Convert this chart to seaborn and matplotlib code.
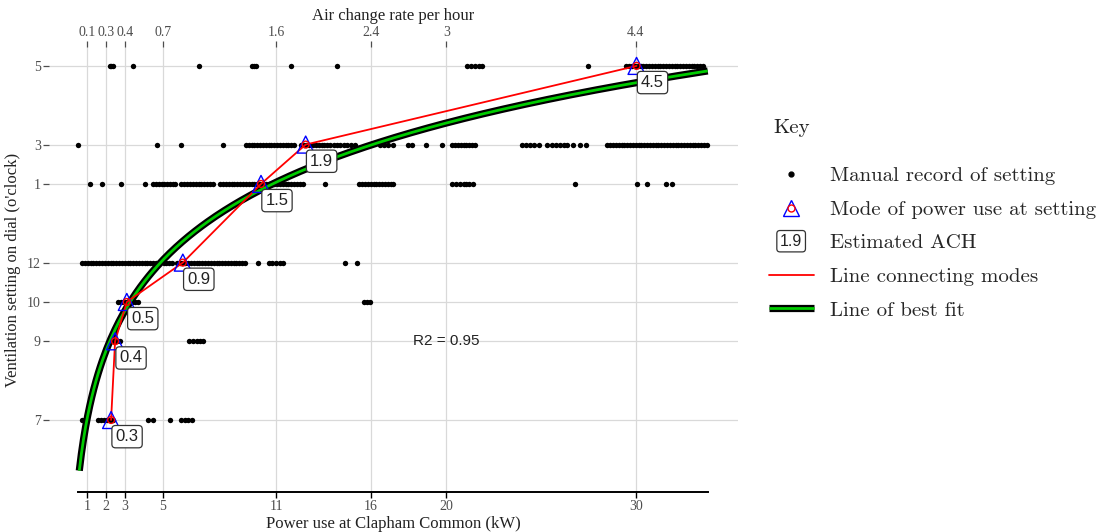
import numpy as np
import pandas as pd
import matplotlib
matplotlib.use("Agg")
import matplotlib.pyplot as plt
import seaborn as sns
import matplotlib.text as mtext
from matplotlib.lines import Line2D
from matplotlib.legend_handler import HandlerBase, HandlerTuple

# ---------------- data ----------------
dial_labels = ["7", "9", "10", "12", "1", "3", "5"]
dial_levels = [0, 2, 3, 4, 6, 7, 9]

power_dial_7 = [0.73, 0.91, 1.6, 1.75, 1.9, 2.05, 2.2, 2.4, 4.25, 4.5, 5.4, 6.0, 6.2, 6.35, 6.55]
power_dial_9 = [2.4, 2.5, 2.6, 2.75, 6.4, 6.6, 6.8, 7.0, 7.15]
power_dial_10 = [2.65, 2.8, 2.95, 3.1, 3.25, 3.4, 3.55, 3.7, 15.65, 15.8, 15.95]
power_dial_12 = [0.75, 0.9, 1.05, 1.2, 1.35, 1.5, 1.65, 1.8, 1.95, 2.1, 2.25, 2.4, 2.55, 2.7,
                 2.85, 3.0, 3.15, 3.3, 3.45, 3.6, 3.75, 3.9, 4.05, 4.2, 4.35, 4.5, 4.65, 4.8,
                 5.05, 5.2, 5.35, 5.5, 5.75, 5.9, 6.05, 6.2, 6.35, 6.5, 6.65, 6.8, 6.95, 7.1,
                 7.25, 7.4, 7.55, 7.7, 7.85, 8.0, 8.15, 8.3, 8.45, 8.6, 8.75, 8.9, 9.05, 9.2,
                 9.35, 10.04, 10.6, 10.8, 11.0, 11.2, 11.35, 14.64, 15.25]
power_dial_1 = [1.14, 1.79, 2.79, 4.08, 4.5, 4.65, 4.8, 4.95, 5.1, 5.25, 5.4, 5.55, 5.65,
                6.0, 6.15, 6.3, 6.45, 6.6, 6.75, 6.9, 7.05, 7.2, 7.35, 7.5, 7.65,
                8.05, 8.2, 8.35, 8.5, 8.65, 8.8, 8.95, 9.1, 9.25, 9.4, 9.55, 9.7, 9.85, 10.0,
                10.15, 10.3, 10.45, 10.6, 10.75, 10.9, 11.05, 11.2, 11.35, 11.5, 11.65, 11.8,
                11.95, 12.1, 12.25, 12.4, 13.58, 15.4, 15.55, 15.7, 15.85, 16.0, 16.15, 16.3,
                16.45, 16.6, 16.75, 16.9, 17.05, 17.2, 20.3, 20.5, 20.7, 20.9, 21.05, 21.2,
                21.4, 26.78, 30.04, 30.57, 31.6, 31.9]
power_dial_3 = [0.55, 4.73, 5.98, 8.21, 9.4, 9.55, 9.7, 9.85, 10.0, 10.15, 10.3, 10.45, 10.6,
                10.75, 10.9, 11.05, 11.2, 11.35, 11.5, 11.65, 11.8, 11.95, 12.3, 12.45, 12.6,
                12.75, 12.95, 13.1, 13.25, 13.4, 13.55, 13.7, 13.85, 14.05, 14.2, 14.35, 14.6,
                14.75, 14.95, 15.15, 16.5, 16.7, 16.9, 17.2, 17.96, 18.17, 18.91, 19.75, 20.3,
                20.45, 20.6, 20.75, 20.9, 21.05, 21.2, 21.35, 21.5, 24.0, 24.2, 24.4, 24.6,
                24.9, 25.3, 25.6, 25.8, 26.0, 26.2, 26.35, 26.67, 27.04, 27.36, 28.5, 28.65,
                28.8, 28.95, 29.1, 29.25, 29.4, 29.55, 29.7, 29.85, 30.0, 30.15, 30.3, 30.45,
                30.6, 30.75, 30.9, 31.05, 31.2, 31.35, 31.5, 31.65, 31.8, 31.95, 32.1, 32.25,
                32.4, 32.55, 32.7, 32.85, 33.0, 33.15, 33.3, 33.45, 33.6, 33.75]
power_dial_5 = [2.23, 2.28, 2.39, 3.46, 6.91, 9.73, 9.83, 9.94, 11.78, 14.23, 21.1, 21.3,
                21.5, 21.7, 21.9, 27.46, 29.5, 29.65, 29.8, 29.95, 30.1, 30.25, 30.4, 30.55,
                30.7, 30.85, 31.0, 31.15, 31.3, 31.45, 31.6, 31.75, 31.9, 32.05, 32.2, 32.35,
                32.5, 32.65, 32.8, 32.95, 33.1, 33.25, 33.4, 33.55]

mode_power = [2.28, 2.49, 3.11, 6.07, 10.2, 12.56, 30.04]
mode_ach = ["0.3", "0.4", "0.5", "0.9", "1.5", "1.9", "4.5"]

power_ticks = [1, 2, 3, 5, 11, 16, 20, 30]
ach_tick_labels = ["0.1", "0.3", "0.4", "0.7", "1.6", "2.4", "3", "4.4"]

fit_slope = 2.52          # level = slope * ln(power)
fit_x_range = (0.6, 33.8)
axis_line_range = (0.55, 33.8)
r2_text = "R2 = 0.95"

# ---------------- frames ----------------
dial_power = [power_dial_7, power_dial_9, power_dial_10, power_dial_12,
              power_dial_1, power_dial_3, power_dial_5]
dots = pd.DataFrame(
    [(p, lvl) for lvl, plist in zip(dial_levels, dial_power) for p in plist],
    columns=["power", "level"])
modes = pd.DataFrame({"power": mode_power, "level": dial_levels, "ach": mode_ach})
fit_x = np.linspace(fit_x_range[0], fit_x_range[1], 300)
fit = pd.DataFrame({"power": fit_x, "level": fit_slope * np.log(fit_x)})

# ---------------- style ----------------
sns.set_theme(style="white")
plt.rcParams["font.family"] = ["Liberation Serif", "DejaVu Serif"]
grey = "#4d4d4d"
green = "#00cc00"

fig = plt.figure(figsize=(11.09, 5.32), dpi=100)
ax = fig.add_axes([49 / 1109, 40 / 532, 689 / 1109, 445 / 532])

ax.set_xlim(-1.0, 35.4)
ax.set_ylim(-1.83, 9.48)

# fit line (black outline, green core)
sns.lineplot(data=fit, x="power", y="level", ax=ax, color="black", lw=5.2,
             zorder=4, sort=False, solid_capstyle="butt")
sns.lineplot(data=fit, x="power", y="level", ax=ax, color=green, lw=2.0,
             zorder=4.1, sort=False, solid_capstyle="butt")

# manual records
sns.scatterplot(data=dots, x="power", y="level", ax=ax, color="black", s=15,
                linewidth=0, zorder=3)

# line connecting modes
sns.lineplot(data=modes, x="power", y="level", ax=ax, color="red", lw=1.3,
             sort=False, zorder=5)
# modes
sns.scatterplot(data=modes, x="power", y="level", ax=ax, marker="^", s=150,
                facecolor="none", edgecolor="#0000ff", linewidth=1.0, zorder=6)
sns.scatterplot(data=modes, x="power", y="level", ax=ax, marker="o", s=24,
                facecolor="none", edgecolor="red", linewidth=1.0, zorder=6.1)

# ACH labels
for p, lvl, lab in zip(mode_power, dial_levels, mode_ach):
    ax.annotate(lab, (p, lvl), xytext=(11.5, -12), textcoords="offset points",
                ha="center", va="center", fontsize=12, family="Liberation Sans",
                color="#222222", zorder=7,
                bbox=dict(boxstyle="round,pad=0.22", fc="white", ec="#333333", lw=0.9))

ax.text(20, 2, r2_text, ha="center", va="center", fontsize=11,
        family="Liberation Sans", color="#222222")

# axes / grid
ax.set_xticks(power_ticks)
ax.set_xticklabels([str(t) for t in power_ticks])
ax.set_yticks(dial_levels)
ax.set_yticklabels(dial_labels)
ax.grid(True, color="#d9d9d9", lw=0.9)
ax.set_axisbelow(True)
for s in ["top", "right", "left"]:
    ax.spines[s].set_visible(False)
ax.spines["bottom"].set_visible(True)
ax.spines["bottom"].set_color("black")
ax.spines["bottom"].set_linewidth(1.4)
ax.spines["bottom"].set_bounds(axis_line_range[0], axis_line_range[1])
ax.tick_params(axis="x", which="major", bottom=True, length=4, width=1,
               color="black", labelcolor=grey, labelsize=10, pad=2)
ax.tick_params(axis="y", which="major", left=True, length=4, width=0.9,
               color=grey, labelcolor=grey, labelsize=10, pad=2)
ax.set_xlabel("Power use at Clapham Common (kW)", fontsize=12, color="#222222",
              labelpad=2)
ax.set_ylabel("Ventilation setting on dial (o'clock)", fontsize=12, color="#222222",
              labelpad=4)

ax2 = ax.twiny()
ax2.set_xlim(ax.get_xlim())
ax2.set_xticks(power_ticks)
ax2.set_xticklabels(ach_tick_labels)
for s in ax2.spines.values():
    s.set_visible(False)
ax2.grid(False)
ax2.tick_params(axis="x", top=True, length=4, width=0.9, color=grey,
                labelcolor=grey, labelsize=10, pad=2)
ax2.set_xlabel("Air change rate per hour", fontsize=12, color="#222222", labelpad=4)

# ---------------- legend ----------------
class BoxTextHandler(HandlerBase):
    def create_artists(self, legend, orig_handle, xdescent, ydescent, width,
                       height, fontsize, trans):
        t = mtext.Text(width / 2 - xdescent, height / 2 - ydescent,
                       orig_handle.get_text(), ha="center", va="center",
                       fontsize=11.5, family="Liberation Sans", color="#222222",
                       transform=trans,
                       bbox=dict(boxstyle="round,pad=0.2", fc="white",
                                 ec="#333333", lw=0.9))
        return [t]

h_dot = Line2D([], [], ls="", marker="o", color="black", markersize=3.5)
h_mode = (Line2D([], [], ls="", marker="^", markersize=12, mfc="none",
                 mec="#0000ff", mew=1.0),
          Line2D([], [], ls="", marker="o", markersize=5, mfc="none",
                 mec="red", mew=1.0))
h_box = mtext.Text(text="1.9")
h_red = Line2D([], [], color="red", lw=1.3)
h_fit = (Line2D([], [], color="black", lw=5.2, solid_capstyle="butt"),
         Line2D([], [], color=green, lw=2.0, solid_capstyle="butt"))

labels = ["Manual record of setting", "Mode of power use at setting",
          "Estimated ACH", "Line connecting modes", "Line of best fit"]
leg = fig.legend([h_dot, h_mode, h_box, h_red, h_fit], labels,
                 loc="upper left", bbox_to_anchor=(750 / 1109, 1 - 148 / 532),
                 bbox_transform=fig.transFigure, frameon=False,
                 prop=dict(family="cmr10", size=15), handlelength=2.15,
                 handletextpad=0.8, labelspacing=0.72,
                 handler_map={tuple: HandlerTuple(ndivide=1, pad=0),
                              h_box: BoxTextHandler()})
fig.text(773 / 1109, 1 - 128 / 532, "Key", family="cmr10", fontsize=15,
         va="center", ha="left", color="#222222")

fig.savefig("out.png", dpi=100)
